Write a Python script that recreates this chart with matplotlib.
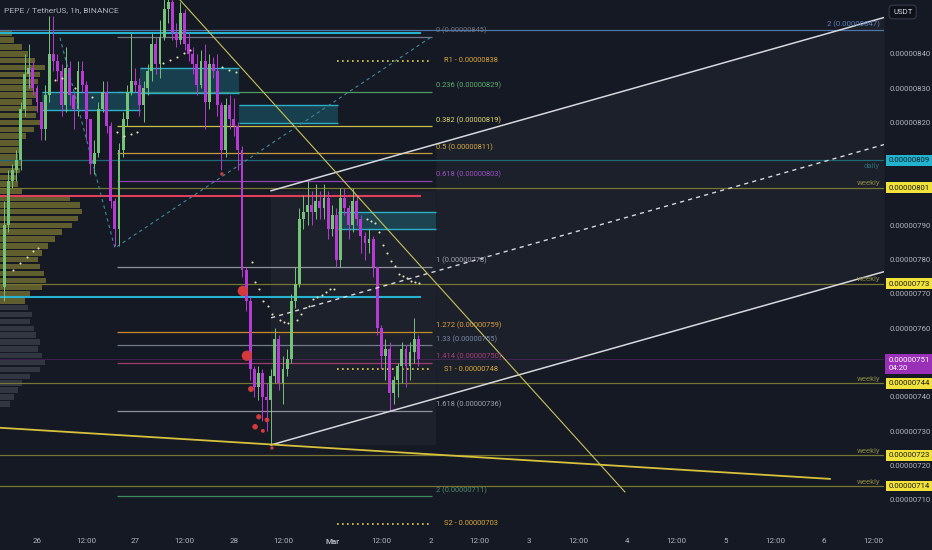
import numpy as np
import matplotlib
matplotlib.use("Agg")
import matplotlib.pyplot as plt
from matplotlib.transforms import blended_transform_factory

plt.rcParams["font.family"] = ["Liberation Sans Narrow", "Roboto", "DejaVu Sans"]

# prices in units of 1e-8 USDT, time in hours from 26 Feb 00:00
first_open = 772
closes = [790, 803, 806, 809, 824, 834, 836, 830, 826, 818, 828, 840, 838, 835, 825, 836,
          828, 824, 835, 831, 821, 808, 811, 824, 829, 819, 797, 789, 812, 821, 829, 832,
          831, 825, 830, 835, 843, 837, 845, 853, 855, 846, 844, 852, 843, 840, 837, 831,
          838, 826, 837, 835, 825, 812, 825, 821, 819, 812, 777, 768, 748, 743, 747, 740,
          739, 746, 757, 744, 748, 751, 768, 773, 792, 794, 796, 794, 797, 795, 798, 789,
          793, 780, 798, 795, 790, 797, 792, 787, 785, 786, 778, 760, 752, 754, 741, 745,
          749, 754, 749, 753, 757, 751]
highs = [797, 806, 808, 812, 826, 840, 843, 838, 831, 826, 831, 851, 851, 840, 837, 842,
         838, 829, 838, 838, 832, 821, 815, 826, 832, 832, 820, 798, 814, 823, 831, 846,
         836, 833, 832, 837, 846, 845, 850, 856, 857, 856, 849, 855, 853, 846, 842, 840,
         841, 843, 840, 839, 840, 826, 827, 828, 827, 820, 813, 778, 769, 749, 749, 748,
         744, 748, 760, 758, 752, 754, 770, 778, 795, 799, 803, 800, 802, 800, 802, 800,
         796, 795, 801, 801, 796, 801, 799, 793, 788, 789, 787, 778, 761, 757, 756, 746,
         750, 756, 755, 756, 763, 758]
lows = [768, 788, 801, 803, 806, 822, 830, 828, 823, 815, 815, 826, 835, 832, 822, 823,
        825, 818, 822, 829, 815, 805, 805, 810, 823, 817, 795, 784, 784, 810, 819, 828,
        829, 822, 820, 828, 832, 834, 833, 844, 849, 844, 842, 843, 841, 838, 834, 828,
        830, 818, 824, 833, 822, 806, 810, 818, 816, 806, 775, 765, 745, 740, 739, 733,
        730, 726, 744, 742, 738, 746, 750, 766, 772, 789, 790, 790, 792, 792, 792, 786,
        787, 778, 778, 793, 786, 788, 790, 782, 780, 782, 775, 758, 748, 745, 736, 738,
        740, 744, 743, 745, 750, 749]
candle_start = -8

# volume profile (left), price bins and relative volume
vp_prices = list(range(846, 736, -2))
vp_volume = [12, 14, 22, 28, 35, 45, 40, 38, 34, 36, 32, 38, 36, 40, 34, 26, 22, 20, 18, 22,
             20, 16, 18, 22, 70, 80, 82, 78, 72, 62, 55, 48, 42, 38, 40, 44, 46, 42, 30, 25,
             28, 32, 30, 34, 36, 40, 38, 42, 45, 40, 30, 22, 18, 14, 10]

# fibonacci retracement
fib_levels = ["0", "0.236", "0.382", "0.5", "0.618", "1", "1.272", "1.33", "1.414", "1.618", "2"]
fib_prices = [845, 829, 819, 811, 803, 778, 759, 755, 750, 736, 711]
fib_colors = ["#6f7684", "#4c9a5e", "#c9c14a", "#c29a3c", "#8a44b0", "#8f929b",
              "#c8892a", "#6f7a8a", "#a23a6c", "#8f929b", "#3f8a5f"]
fib_label_colors = ["#6f7684", "#5fae70", "#e0d870", "#d4aa48", "#9b50c4", "#a0a3ab",
                    "#d9a040", "#7a8aa8", "#a8407a", "#a0a3ab", "#4c8a68"]
fib_t = [19.5, 96.3]

# pivot points
pivot_names = ["R1", "S1", "S2"]
pivot_prices = [838, 748, 703]
pivot_t = [73.2, 96.3]

# key levels
weekly_prices = [801, 773, 744, 723, 714]
daily_price = 809
fib2_price = 847
zone_lines = [846.2, 798.6, 769.2]
zone_line_colors = ["#26b3cf", "#e0405a", "#26b3cf"]
zone_line_end = 93.7
current_price = 751
countdown = "04:20"

# order blocks
box_t0 = [1.2, 25.1, 49.3, 73.4]
box_t1 = [25.1, 49.3, 73.4, 97.3]
box_lo = [823.7, 828.6, 819.9, 789.0]
box_hi = [828.9, 835.9, 825.1, 793.9]

# trendlines
chan_t = [57.1, 206.6]
chan_low = [726.0, 776.5]
chan_high = [800.1, 850.6]
down_t = [34.9, 143.4]
down_p = [855.7, 712.3]
long_t = [-9.0, 193.4]
long_p = [731.0, 716.1]
vee_t = [5.6, 19.0, 95.9]
vee_p = [844.7, 783.4, 844.7]

# liquidation dots
liq_t = [45.1, 50.2, 51.2, 52.2, 53.2, 54.1, 55.1, 56.1, 57.3]
liq_p = [805.0, 770.9, 752.0, 742.3, 731.3, 734.2, 730.1, 733.3, 725.1]
liq_s = [6, 55, 55, 18, 16, 14, 8, 12, 6]

# SAR dots
sar_t = [-5.9, -4.1, -2.4, -1.0, 0.2, 4.4, 6.1, 9.3, 13.4, 19.5, 21.2, 22.9, 24.4, 30.7, 32.4,
         34.1, 35.9, 37.3, 45.1, 46.8, 48.5, 52.4, 53.2, 54.1, 55.1, 56.3, 57.3, 59.3, 60.2,
         61.2, 63.4, 64.4, 66.3, 67.3, 68.3, 69.5, 70.5, 71.5, 72.4, 80.5, 81.5, 82.4, 83.4,
         84.4, 85.4, 86.3, 87.3, 88.3, 89.3, 90.2, 91.2, 92.2, 93.2]
sar_p = [777.0, 779.1, 780.8, 782.6, 783.4, 832.4, 833.0, 830.1, 827.5, 817.3, 816.1, 816.7,
         817.3, 837.4, 838.3, 839.1, 840.3, 841.2, 836.2, 835.3, 834.8, 779.4, 773.5, 771.5,
         768.0, 766.5, 764.2, 762.4, 761.9, 761.6, 762.4, 764.2, 766.5, 768.6, 769.2, 769.7,
         770.6, 771.5, 771.5, 791.9, 791.3, 790.7, 788.1, 784.3, 782.0, 779.7, 778.2, 775.9,
         775.3, 774.7, 773.8, 773.5, 773.2]

x_ticks = [0, 12, 24, 36, 48, 60, 72, 84, 96, 108, 120, 132, 144, 156, 168, 180, 192, 204]
x_labels = ["26", "12:00", "27", "12:00", "28", "12:00", "Mar", "12:00", "2", "12:00",
            "3", "12:00", "4", "12:00", "5", "12:00", "6", "12:00"]
y_ticks = [710, 720, 730, 740, 760, 770, 780, 790, 820, 830, 840]

bg = "#151924"
txt = "#b2b5be"
olive = "#77752f"
green = "#74c378"
magenta = "#b83ad4"

fig = plt.figure(figsize=(9.32, 5.5), dpi=100, facecolor=bg)
ax = fig.add_axes([0, 20 / 550, 884 / 932, 530 / 550])
ax.set_facecolor(bg)
for s in ax.spines.values():
    s.set_visible(False)
right = blended_transform_factory(ax.transAxes, ax.transData)

# shaded pattern area + channel
ax.fill_between([chan_t[0], fib_t[1] + 1], chan_low[0], chan_high[0], color="white", alpha=0.035, lw=0, zorder=1)
tt = np.array([fib_t[1] + 1, chan_t[1]])
ax.fill_between(tt, np.interp(tt, chan_t, chan_low), np.interp(tt, chan_t, chan_high),
                color="white", alpha=0.03, lw=0, zorder=1)

# volume profile
vmax = max(vp_volume)
vp_colors = ["#7a7634" if p >= 768 else "#3d414c" for p in vp_prices]
ax.barh(vp_prices, [v / vmax * 0.093 for v in vp_volume], height=1.6, left=0,
        color=vp_colors, alpha=0.75, transform=right, zorder=2)

# horizontal levels
ax.axhline(fib2_price, color="#4f74a6", lw=0.9, zorder=3)
ax.axhline(daily_price, color="#1f6a78", lw=0.9, zorder=3)
for p in weekly_prices:
    ax.axhline(p, color=olive, lw=0.9, zorder=3)
for p, c in zip(zone_lines, zone_line_colors):
    ax.hlines(p, -9.02, zone_line_end, color=c, lw=1.5, zorder=3)
ax.axhline(current_price, color=magenta, lw=0.5, alpha=0.35, zorder=3)

ax.hlines(fib_prices, fib_t[0], fib_t[1], colors=fib_colors, lw=0.9, zorder=3)
for lvl, p, c in zip(fib_levels, fib_prices, fib_label_colors):
    ax.annotate(f"{lvl} (0.00000{p})", (fib_t[1] + 1, p), xytext=(0, 1.5),
                textcoords="offset points", fontsize=5.4, color=c, va="bottom", ha="left", zorder=6)
ax.hlines(pivot_prices, pivot_t[0], pivot_t[1], colors="#e6d34a", lw=1.2, linestyles=(0, (1, 2)), zorder=3)
for n, p in zip(pivot_names, pivot_prices):
    ax.text(pivot_t[1] + 3, p, f"{n} - 0.00000{p}", fontsize=5.4, color="#d9a93a", va="center", zorder=6)

# order blocks
for t0, t1, lo, hi in zip(box_t0, box_t1, box_lo, box_hi):
    ax.fill_between([t0, t1], lo, hi, color="#1d6e80", alpha=0.45, lw=0, zorder=3)
    ax.hlines([lo, hi], t0, t1, color="#2bb0c8", lw=1.0, zorder=3)

# candles
t = np.arange(len(closes)) + candle_start
opens = [first_open] + closes[:-1]
cols = [green if c >= o else magenta for o, c in zip(opens, closes)]
bottoms = [min(o, c) for o, c in zip(opens, closes)]
heights = [max(abs(c - o), 0.4) for o, c in zip(opens, closes)]
ax.vlines(t, lows, highs, colors=cols, lw=0.7, zorder=4)
ax.bar(t, heights, bottom=bottoms, width=0.7, color=cols, lw=0, zorder=4)

# dots
ax.scatter(sar_t, sar_p, s=2.2, color="#e8e6b0", lw=0, zorder=5)
ax.scatter(liq_t, liq_p, s=liq_s, color="#d43a3a", lw=0, zorder=5)

# trendlines
ax.plot(chan_t, chan_low, color="#d6d8de", lw=1.1, zorder=5)
ax.plot(chan_t, chan_high, color="#d6d8de", lw=1.1, zorder=5)
ax.plot(chan_t, [(a + b) / 2 for a, b in zip(chan_low, chan_high)], color="#d6d8de", lw=1.0,
        ls=(0, (3, 3)), zorder=5)
ax.plot(down_t, down_p, color="#c9c25a", lw=0.8, zorder=5)
ax.plot(long_t, long_p, color="#d6c23c", lw=1.3, zorder=5)
ax.plot(vee_t, vee_p, color="#3a8a9a", lw=0.8, ls=(0, (3, 3)), zorder=5)

# right side labels
ax.annotate("2 (0.00000847)", (205.6, fib2_price), xytext=(0, 1), textcoords="offset points",
            fontsize=5.6, color="#5a80b8", ha="right", va="bottom", zorder=6)
for p in weekly_prices:
    ax.annotate("weekly", (205.6, p), xytext=(0, 1), textcoords="offset points",
                fontsize=5.6, color="#8a8840", ha="right", va="bottom", zorder=6)
ax.annotate("daily", (205.6, daily_price), xytext=(0, -2), textcoords="offset points",
            fontsize=5.6, color="#2a6a78", ha="right", va="top", zorder=6)

tags = [(daily_price, "#22b3cf", "#0b1a20")] + [(p, "#f2e33c", "#1a1a10") for p in weekly_prices]
for p, fc, tc in tags:
    ax.text(1.005, p, f"0.00000{p}", transform=right, fontsize=5.6, color=tc, va="center",
            ha="left", clip_on=False, zorder=7,
            bbox=dict(boxstyle="square,pad=0.3", fc=fc, ec="none"))
ax.text(1.005, current_price - 1.5, f"0.00000{current_price}\n{countdown}", transform=right,
        fontsize=5.6, color="white", va="center", ha="left", clip_on=False, zorder=7,
        linespacing=1.4, bbox=dict(boxstyle="square,pad=0.4", fc="#9a2fb8", ec="none"))

ax.set_xlim(-9.02, 206.6)
ax.set_ylim(701.2, 855.7)
ax.set_xticks(x_ticks, x_labels)
ax.yaxis.tick_right()
ax.set_yticks(y_ticks, [f"0.00000{v}" for v in y_ticks])
ax.tick_params(axis="x", length=0, pad=6, labelsize=5.8, labelcolor=txt)
ax.tick_params(axis="y", length=0, pad=4, labelsize=5.6, labelcolor=txt)
for lab in ax.get_xticklabels():
    if lab.get_text() == "Mar":
        lab.set_fontweight("bold")

fig.text(4 / 932, 1 - 10 / 550, "PEPE / TetherUS, 1h, BINANCE", fontsize=6, color=txt,
         va="center", ha="left")
fig.text(893 / 932, 1 - 12 / 550, "USDT", fontsize=5.6, color="#d1d4dc", va="center", ha="left",
         bbox=dict(boxstyle="round,pad=0.5", fc="#0e1118", ec="#363a45", lw=0.8))

fig.savefig("out.png", dpi=100, facecolor=bg)
